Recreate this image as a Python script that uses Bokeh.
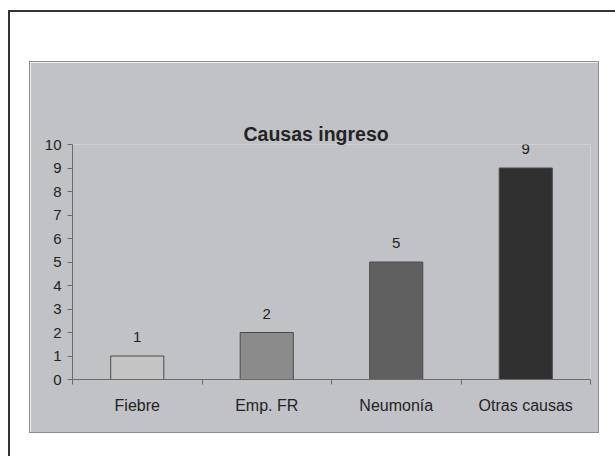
from bokeh.plotting import figure
from bokeh.models import Range1d, FixedTicker, Title, LabelSet, ColumnDataSource
from bokeh.core.properties import value
from bokeh.layouts import column
from bokeh.embed import file_html
from bokeh.resources import INLINE

# ---- data ----
categories = ["Fiebre", "Emp. FR", "Neumonía", "Otras causas"]
values = [1, 2, 5, 9]
y_ticks = [0, 1, 2, 3, 4, 5, 6, 7, 8, 9, 10]
title_text = "Causas ingreso"

# ---- styles ----
bar_colors = ["#c4c4c4", "#8b8b8b", "#606060", "#303030"]
panel_bg = "#c1c2c6"
FONT = "Liberation Sans"
TXT = "#232323"

xs = [i + 0.5 for i in range(len(categories))]
src = ColumnDataSource(dict(x=xs, top=values, color=bar_colors,
                            label=[str(v) for v in values]))

p = figure(width=570, height=372, x_range=Range1d(0, len(categories)),
           y_range=Range1d(0, 10), output_backend="svg", toolbar_location=None,
           min_border_left=42, min_border_right=10, min_border_top=82,
           min_border_bottom=55,
           background_fill_color=panel_bg, border_fill_color=panel_bg,
           outline_line_color=None,
           styles={"border": "1px solid #8c8c8c"})
p.grid.visible = False

# title (outermost) and a blank spacer panel between it and the frame
t = Title(text=title_text, align="left", text_font=FONT,
          text_font_size="19.5px", text_font_style="bold", text_color=TXT,
          offset=171, standoff=0)
p.add_layout(t, "above")
spacer = Title(text=" ", text_font=FONT, text_font_size="20px", standoff=20,
               text_color=panel_bg)
p.add_layout(spacer, "above")

p.vbar(x="x", top="top", width=0.41, bottom=0, source=src,
       fill_color="color", line_color="#4a4a4a", line_width=1)

labels = LabelSet(x="x", y="top", text="label", source=src, text_align="center",
                  text_baseline="bottom", y_offset=14, text_font=value(FONT),
                  text_font_size=value("15px"), text_color=value(TXT))
p.add_layout(labels)

# x axis: boundary ticks as minor ticks, labels at centres
xa = p.xaxis[0]
xa.ticker = FixedTicker(ticks=xs, minor_ticks=list(range(len(categories) + 1)))
xa.major_label_overrides = {x: c for x, c in zip(xs, categories)}
xa.major_tick_line_color = None
xa.major_tick_out = 0
xa.major_tick_in = 0
xa.minor_tick_out = 5
xa.minor_tick_in = 0
xa.minor_tick_line_color = "#6a6a6a"
xa.axis_line_color = "#6a6a6a"
xa.major_label_standoff = 12
xa.major_label_text_font = FONT
xa.major_label_text_font_size = "16px"
xa.major_label_text_color = TXT

ya = p.yaxis[0]
ya.ticker = FixedTicker(ticks=y_ticks)
ya.minor_tick_line_color = None
ya.major_tick_out = 5
ya.major_tick_in = 0
ya.major_tick_line_color = "#6a6a6a"
ya.axis_line_color = "#6a6a6a"
ya.major_label_standoff = 6
ya.major_label_text_font = FONT
ya.major_label_text_font_size = "15px"
ya.major_label_text_color = TXT

p.margin = (49, 20, 40, 19)
layout = column(p, margin=(10, 0, 0, 8),
                styles={"border-left": "2px solid #333333",
                        "border-top": "2px solid #333333",
                        "background-color": "white"})

open("out.html", "w").write(file_html(layout, INLINE))
